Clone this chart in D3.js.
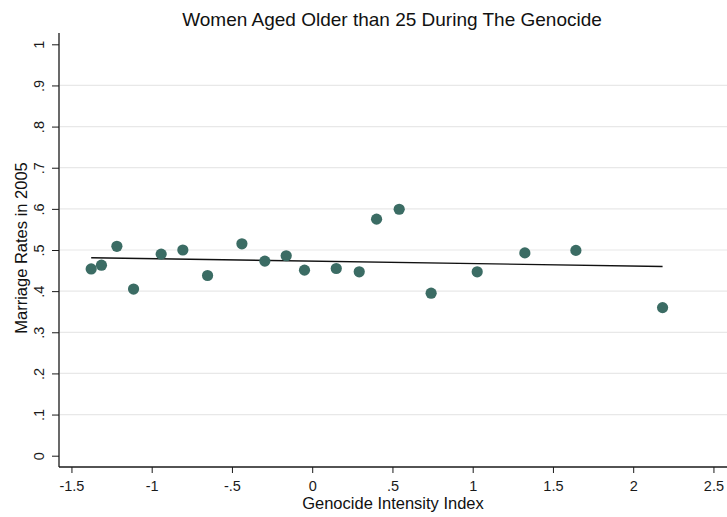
<!DOCTYPE html>
<html>
<head>
<meta charset="utf-8">
<script src="https://cdn.jsdelivr.net/npm/d3@7"></script>
<style>
  html, body { margin: 0; padding: 0; background: #fff; }
  svg { display: block; font-family: "Liberation Sans", Arial, Helvetica, sans-serif; }
</style>
</head>
<body>
<svg id="chart" width="727" height="517"></svg>
<script>
// Genocide intensity index (x) and marriage rate in 2005 (y), one point per group
const intensity = [-1.377, -1.313, -1.217, -1.113, -0.941, -0.806, -0.652, -0.438, -0.295, -0.162,
                   -0.048, 0.150, 0.293, 0.401, 0.542, 0.741, 1.028, 1.325, 1.643, 2.183];
const marriageRate = [0.454, 0.463, 0.509, 0.405, 0.490, 0.500, 0.438, 0.515, 0.473, 0.486,
                      0.451, 0.455, 0.447, 0.575, 0.599, 0.395, 0.447, 0.493, 0.499, 0.360];

// Fitted linear trend, evaluated at the ends of the data range
const fitX = [-1.377, 2.183];
const fitY = [0.481, 0.460];

const xTicks = [-1.5, -1, -0.5, 0, 0.5, 1, 1.5, 2, 2.5];
const xTickLabels = ["-1.5", "-1", "-.5", "0", ".5", "1", "1.5", "2", "2.5"];
const yTicks = [0, 0.1, 0.2, 0.3, 0.4, 0.5, 0.6, 0.7, 0.8, 0.9, 1];
const yTickLabels = ["0", ".1", ".2", ".3", ".4", ".5", ".6", ".7", ".8", ".9", "1"];

const title = "Women Aged Older than 25 During The Genocide";
const xTitle = "Genocide Intensity Index";
const yTitle = "Marriage Rates in 2005";

const svg = d3.select("#chart");
const W = 727, H = 517;
const axisX = 59, axisY = 467, axisTop = 33;

const x = d3.scaleLinear().domain([0, 1]).range([312.2, 472.7]);
const y = d3.scaleLinear().domain([0, 1]).range([455.7, 44.3]);

const ink = "#1a1a1a";
const dotColor = "#3b6c64";

// horizontal grid lines at interior y ticks
svg.append("g")
  .selectAll("line")
  .data(yTicks.filter(t => t > 0 && t < 1))
  .join("line")
  .attr("x1", axisX + 1).attr("x2", W)
  .attr("y1", d => y(d)).attr("y2", d => y(d))
  .attr("stroke", "#e8e8e8").attr("stroke-width", 1.2);

// y axis
const yAxis = d3.axisLeft(y).tickValues(yTicks).tickSize(7).tickPadding(6)
  .tickFormat((d, i) => yTickLabels[i]);
const gy = svg.append("g").attr("transform", `translate(${axisX},0)`).call(yAxis);
gy.select(".domain").remove();
gy.selectAll(".tick line").attr("stroke", ink);
gy.selectAll(".tick text")
  .attr("fill", ink).attr("font-size", 14.5).attr("font-family", null)
  .attr("text-anchor", "middle").attr("x", null)
  .attr("transform", "translate(-20,0) rotate(-90)")
  .attr("dy", "0.36em");
svg.append("line")
  .attr("x1", axisX).attr("x2", axisX).attr("y1", axisTop).attr("y2", axisY)
  .attr("stroke", ink).attr("stroke-width", 1.3);

// x axis
const xAxis = d3.axisBottom(x).tickValues(xTicks).tickSize(6).tickPadding(4)
  .tickFormat((d, i) => xTickLabels[i]);
const gx = svg.append("g").attr("transform", `translate(0,${axisY})`).call(xAxis);
gx.select(".domain").remove();
gx.selectAll(".tick line").attr("stroke", ink);
gx.selectAll(".tick text")
  .attr("fill", ink).attr("font-size", 14.5).attr("font-family", null)
  .attr("dy", null).attr("y", 24);
svg.append("line")
  .attr("x1", axisX).attr("x2", W).attr("y1", axisY).attr("y2", axisY)
  .attr("stroke", ink).attr("stroke-width", 1.3);

// fitted line
svg.append("line")
  .attr("x1", x(fitX[0])).attr("y1", y(fitY[0]))
  .attr("x2", x(fitX[1])).attr("y2", y(fitY[1]))
  .attr("stroke", "#111").attr("stroke-width", 1.4);

// scatter points
svg.append("g")
  .selectAll("circle")
  .data(intensity.map((v, i) => [v, marriageRate[i]]))
  .join("circle")
  .attr("cx", d => x(d[0])).attr("cy", d => y(d[1]))
  .attr("r", 5.6)
  .attr("fill", dotColor);

// titles
svg.append("text")
  .attr("x", 392).attr("y", 26)
  .attr("text-anchor", "middle").attr("font-size", 19).attr("fill", "#111")
  .text(title);
svg.append("text")
  .attr("x", 393).attr("y", 509)
  .attr("text-anchor", "middle").attr("font-size", 16.5).attr("fill", "#111")
  .text(xTitle);
svg.append("text")
  .attr("transform", "translate(27,248) rotate(-90)")
  .attr("text-anchor", "middle").attr("font-size", 16.5).attr("fill", "#111")
  .text(yTitle);
</script>
</body>
</html>
